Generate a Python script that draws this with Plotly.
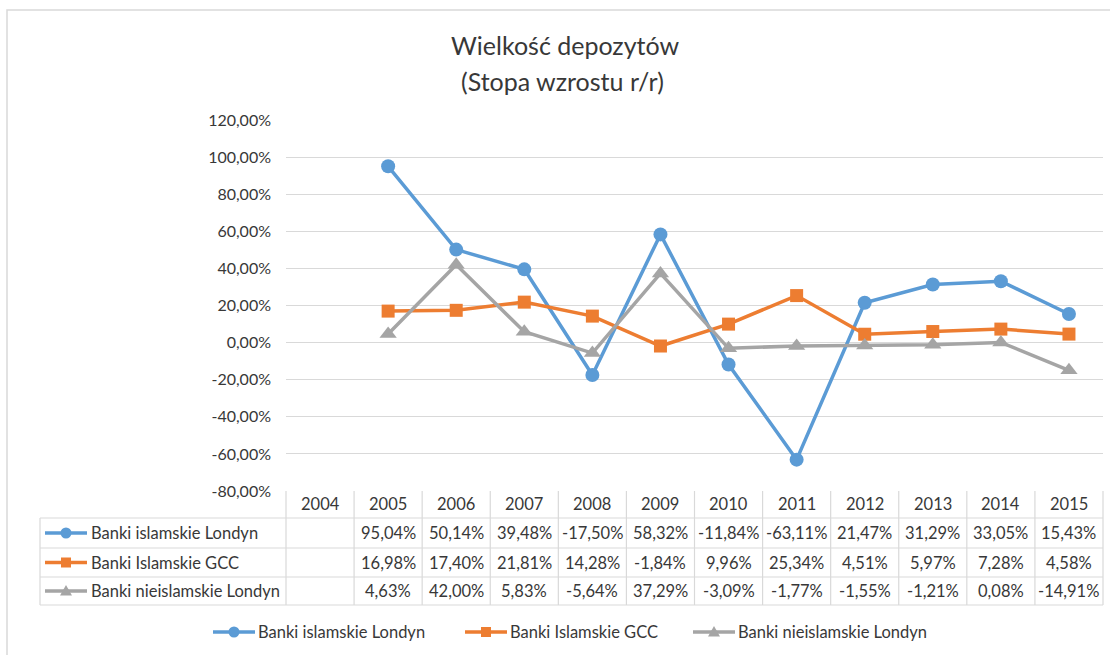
import plotly.graph_objects as go

# --- data -------------------------------------------------------------
years = ["2004", "2005", "2006", "2007", "2008", "2009", "2010",
         "2011", "2012", "2013", "2014", "2015"]
series_names = ["Banki islamskie Londyn", "Banki Islamskie GCC",
                "Banki nieislamskie Londyn"]
islamic_london = [None, 95.04, 50.14, 39.48, -17.50, 58.32, -11.84,
                  -63.11, 21.47, 31.29, 33.05, 15.43]
islamic_gcc = [None, 16.98, 17.40, 21.81, 14.28, -1.84, 9.96,
               25.34, 4.51, 5.97, 7.28, 4.58]
non_islamic_london = [None, 4.63, 42.00, 5.83, -5.64, 37.29, -3.09,
                      -1.77, -1.55, -1.21, 0.08, -14.91]
y_ticks = [-80, -60, -40, -20, 0, 20, 40, 60, 80, 100, 120]

series = [islamic_london, islamic_gcc, non_islamic_london]
colors = ["#5B9BD5", "#ED7D31", "#A5A5A5"]
symbols = ["circle", "square", "triangle-up"]
marker_sizes = [14, 13, 15]

# --- geometry ---------------------------------------------------------
W, H = 1110, 655
L, R, T, B = 286, 1103, 120, 491
FONT = "Lato"
TXT = "#383838"
GRID = "#D9D9D9"


def px_x(p):
    return (p - L) / (R - L)


def px_y(p):
    return (B - p) / (B - T)


def pct(v):
    return "" if v is None else f"{v:.2f}%".replace(".", ",")


def label(text, x, y, size=16.5, xref="paper", xanchor="center"):
    return dict(text=text, xref=xref, yref="paper", x=x, y=y,
                xanchor=xanchor, yanchor="middle", showarrow=False,
                font=dict(family=FONT, size=size, color=TXT))


fig = go.Figure()
for name, vals, c, sym, ms in zip(series_names, series, colors, symbols, marker_sizes):
    fig.add_trace(go.Scatter(
        x=years, y=vals, name=name, mode="lines+markers",
        line=dict(color=c, width=3.5),
        marker=dict(symbol=sym, size=ms, color=c),
        showlegend=False, cliponaxis=False,
    ))

shapes = []
annotations = []

# chart frame
shapes.append(dict(type="rect", xref="paper", yref="paper",
                   x0=px_x(7), x1=px_x(1115), y0=px_y(10), y1=px_y(665),
                   line=dict(color=GRID, width=1.5), layer="below"))

# title
annotations.append(label("Wielkość depozytów", px_x(565), px_y(45), size=25))
annotations.append(label("(Stopa wzrostu r/r)", px_x(562), px_y(81), size=25))

# data table below the plot
row_lines = [518, 548, 577, 605]
row_centers = [533, 562.5, 591]
n = len(years)
for i in range(n + 1):
    xp = i / n
    shapes.append(dict(type="line", xref="paper", yref="paper",
                       x0=xp, x1=xp, y0=px_y(B), y1=px_y(605),
                       line=dict(color=GRID, width=1.2)))
shapes.append(dict(type="line", xref="paper", yref="paper",
                   x0=px_x(40), x1=px_x(40), y0=px_y(518), y1=px_y(605),
                   line=dict(color=GRID, width=1.2)))
for yl in row_lines:
    shapes.append(dict(type="line", xref="paper", yref="paper",
                       x0=px_x(40), x1=1, y0=px_y(yl), y1=px_y(yl),
                       line=dict(color=GRID, width=1.2)))

# column centres on the category axis are the category indices
for i, yr in enumerate(years):
    annotations.append(label(yr, i, px_y(504.5), xref="x"))


def legend_key(x0, yc, color, symbol):
    out = [dict(type="line", xref="paper", yref="paper",
                x0=px_x(x0), x1=px_x(x0 + 42), y0=px_y(yc), y1=px_y(yc),
                line=dict(color=color, width=3.5))]
    base = dict(xref="paper", yref="paper", xsizemode="pixel", ysizemode="pixel",
                xanchor=px_x(x0 + 21), yanchor=px_y(yc),
                fillcolor=color, line=dict(color=color, width=0))
    if symbol == "circle":
        out.append(dict(type="circle", x0=-5.5, x1=5.5, y0=-5.5, y1=5.5, **base))
    elif symbol == "square":
        out.append(dict(type="rect", x0=-5, x1=5, y0=-5, y1=5, **base))
    else:
        out.append(dict(type="path", path="M -6,-4.5 L 6,-4.5 L 0,6 Z", **base))
    return out


for name, vals, c, sym, yc in zip(series_names, series, colors, symbols, row_centers):
    shapes.extend(legend_key(45, yc, c, sym))
    annotations.append(label(name, px_x(89), px_y(yc), xanchor="left"))
    for i, v in enumerate(vals):
        if v is None:
            continue
        annotations.append(label(pct(v), i, px_y(yc), xref="x"))

# legend at the bottom
legend_x = [213, 465, 693]
for name, c, sym, lx in zip(series_names, colors, symbols, legend_x):
    shapes.extend(legend_key(lx, 632, c, sym))
    annotations.append(label(name, px_x(lx + 43), px_y(632), xanchor="left"))

fig.update_layout(
    width=W, height=H, autosize=False,
    margin=dict(l=L, r=W - R, t=T, b=H - B),
    paper_bgcolor="white", plot_bgcolor="white",
    shapes=shapes, annotations=annotations,
    showlegend=False,
    xaxis=dict(type="category", categoryorder="array", categoryarray=years,
               range=[-0.5, n - 0.5], showticklabels=False, showgrid=False,
               zeroline=False, showline=False, ticks=""),
    yaxis=dict(range=[-80, 120], tickvals=y_ticks,
               ticktext=[pct(v) for v in y_ticks],
               showgrid=True, gridcolor=GRID, gridwidth=1.2,
               zeroline=False, showline=False, ticks="",
               ticklabelstandoff=14,
               tickfont=dict(family=FONT, size=16, color=TXT)),
)

fig.write_html("out.html")
